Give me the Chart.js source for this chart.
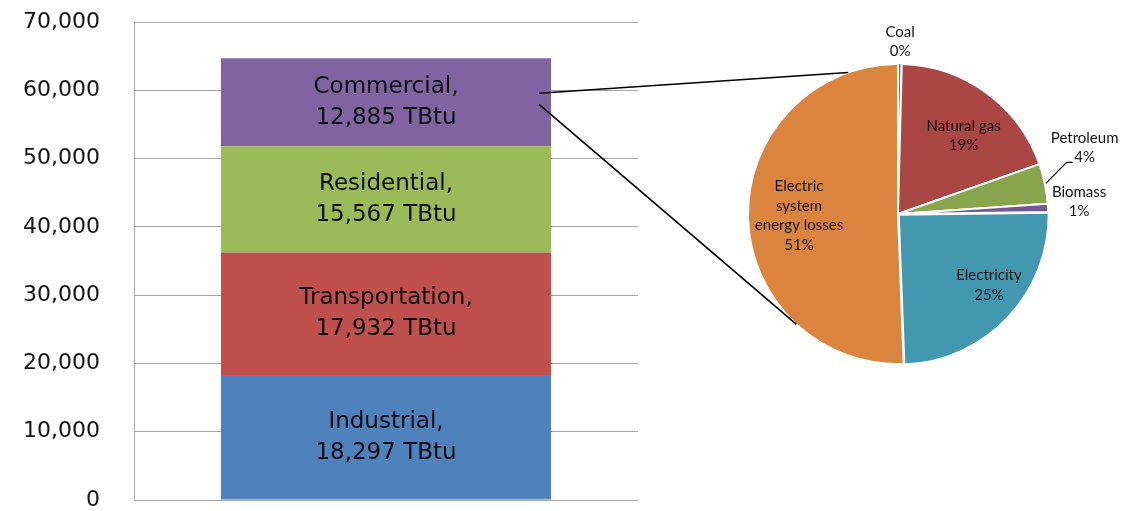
<!DOCTYPE html>
<html>
<head>
<meta charset="utf-8">
<script src="https://cdn.jsdelivr.net/npm/chart.js@4.4.1/dist/chart.umd.min.js"></script>
<style>
  html, body { margin: 0; padding: 0; background: #ffffff; }
  #wrap { position: relative; width: 1122px; height: 511px; }
  #wrap canvas { position: absolute; left: 0; top: 0; }
</style>
</head>
<body>
<div id="wrap">
  <canvas id="barChart" width="1122" height="511"></canvas>
  <canvas id="pieChart" width="1122" height="511"></canvas>
</div>
<script>
// End-use sectors, total consumption (TBtu)
const sectors = ['Industrial', 'Transportation', 'Residential', 'Commercial'];
const sectorTBtu = [18297, 17932, 15567, 12885];
const sectorColors = ['#4F81BD', '#C0504D', '#9BBB59', '#8064A2'];

// Value axis
const axisMin = 0;
const axisMax = 70000;
const axisStep = 10000;

// Commercial sector consumption by source (% share)
const sources = ['Coal', 'Natural gas', 'Petroleum', 'Biomass', 'Electricity', 'Electric system energy losses'];
const sourceShare = [0.4, 19.2, 4.3, 0.9, 24.6, 50.6];
const sourceLabelLines = [['Coal'], ['Natural gas'], ['Petroleum'], ['Biomass'], ['Electricity'], ['Electric', 'system', 'energy losses']];
const sourceColors = ['#4572A7', '#AA4643', '#89A54E', '#71588F', '#4198AF', '#DB843D'];

// Label placement around the pie: [radius factor, angle shift in degrees]
const pieLabelPlace = [[1.15, 0], [0.68, 4], [1.32, -7.8], [1.21, -1.5], [0.77, -5.5], [0.66, 0]];

const fmt = v => v.toLocaleString('en-US');

// Segment labels written inside the stacked bar
const barLabels = {
  id: 'barLabels',
  afterDatasetsDraw(chart) {
    const ctx = chart.ctx;
    ctx.save();
    ctx.font = '23px "DejaVu Sans"';
    ctx.fillStyle = '#0d0d0d';
    ctx.textAlign = 'center';
    ctx.textBaseline = 'middle';
    chart.data.datasets.forEach((ds, i) => {
      const el = chart.getDatasetMeta(i).data[0];
      const cy = (el.y + el.base) / 2;
      ctx.fillText(ds.label + ',', el.x, cy - 15.5);
      ctx.fillText(fmt(ds.data[0]) + ' TBtu', el.x, cy + 15.5);
    });
    ctx.restore();
  }
};

const barChart = new Chart(document.getElementById('barChart'), {
  type: 'bar',
  data: {
    labels: [''],
    datasets: sectors.map((s, i) => ({
      label: s,
      data: [sectorTBtu[i]],
      backgroundColor: sectorColors[i],
      borderWidth: 0,
      categoryPercentage: 1,
      barPercentage: 0.655
    }))
  },
  options: {
    responsive: false,
    animation: false,
    devicePixelRatio: 1,
    layout: { padding: { left: 0, right: 484, top: 22, bottom: 11 } },
    plugins: { legend: { display: false }, tooltip: { enabled: false } },
    scales: {
      x: { stacked: true, display: false },
      y: {
        stacked: true,
        min: axisMin,
        max: axisMax,
        afterFit(scale) {
          scale.width = 134;
          scale.paddingTop = 0;
          scale.paddingBottom = 0;
        },
        ticks: {
          stepSize: axisStep,
          padding: 34,
          color: '#141414',
          font: { family: 'DejaVu Sans', size: 22 },
          callback: v => fmt(v)
        },
        grid: { color: '#A6A6A6', lineWidth: 1, drawTicks: false },
        border: { display: true, color: '#A6A6A6', width: 1 }
      }
    }
  },
  plugins: [barLabels]
});

// Pie labels plus the lines that tie the Commercial bar to the pie
const pieDecor = {
  id: 'pieDecor',
  afterDatasetsDraw(chart) {
    const ctx = chart.ctx;
    const arcs = chart.getDatasetMeta(0).data;
    const cx = arcs[0].x, cy = arcs[0].y, R = arcs[0].outerRadius;

    // connector lines from the Commercial segment
    const seg = barChart.getDatasetMeta(3).data[0];
    const segMid = (seg.y + seg.base) / 2;
    const sx = seg.x + seg.width / 2 - 12;
    const toPie = deg => {
      const a = (deg - 90) * Math.PI / 180;
      return [cx + R * Math.cos(a), cy + R * Math.sin(a)];
    };
    ctx.save();
    ctx.strokeStyle = '#000000';
    ctx.lineWidth = 1.6;
    let p = toPie(340.6);
    ctx.beginPath(); ctx.moveTo(sx, segMid - 9); ctx.lineTo(p[0], p[1]); ctx.stroke();
    p = toPie(222.6);
    ctx.beginPath(); ctx.moveTo(sx, segMid + 2); ctx.lineTo(p[0], p[1]); ctx.stroke();
    ctx.restore();

    // slice labels
    ctx.save();
    ctx.font = '15px Lato';
    ctx.fillStyle = '#141414';
    ctx.textAlign = 'center';
    ctx.textBaseline = 'middle';
    const lh = 19.5;
    arcs.forEach((arc, i) => {
      const mid = (arc.startAngle + arc.endAngle) / 2;
      const [f, shift] = pieLabelPlace[i];
      const a = mid + shift * Math.PI / 180;
      const lx = cx + R * f * Math.cos(a);
      const ly = cy + R * f * Math.sin(a);
      const lines = sourceLabelLines[i].concat([Math.round(sourceShare[i]) + '%']);
      const top = ly - (lines.length - 1) * lh / 2;
      lines.forEach((t, k) => ctx.fillText(t, lx, top + k * lh));
      if (i === 2) {
        // leader line for the Petroleum slice
        const ax = cx + (R + 1) * Math.cos(mid);
        const ay = cy + (R + 1) * Math.sin(mid);
        ctx.strokeStyle = '#000000';
        ctx.lineWidth = 1.2;
        ctx.beginPath();
        ctx.moveTo(ax, ay);
        ctx.lineTo(lx - 18, ly + 14.5);
        ctx.lineTo(lx - 12, ly + 14.5);
        ctx.stroke();
      }
    });
    ctx.restore();
  }
};

new Chart(document.getElementById('pieChart'), {
  type: 'pie',
  data: {
    labels: sources,
    datasets: [{
      data: sourceShare,
      backgroundColor: sourceColors,
      borderColor: '#ffffff',
      borderWidth: 2,
      offset: [2, 0, 0, 0, 4, 0]
    }]
  },
  options: {
    responsive: false,
    animation: false,
    devicePixelRatio: 1,
    layout: { padding: { left: 745, right: 71, top: 61, bottom: 144 } },
    plugins: { legend: { display: false }, tooltip: { enabled: false } }
  },
  plugins: [pieDecor]
});
</script>
</body>
</html>
